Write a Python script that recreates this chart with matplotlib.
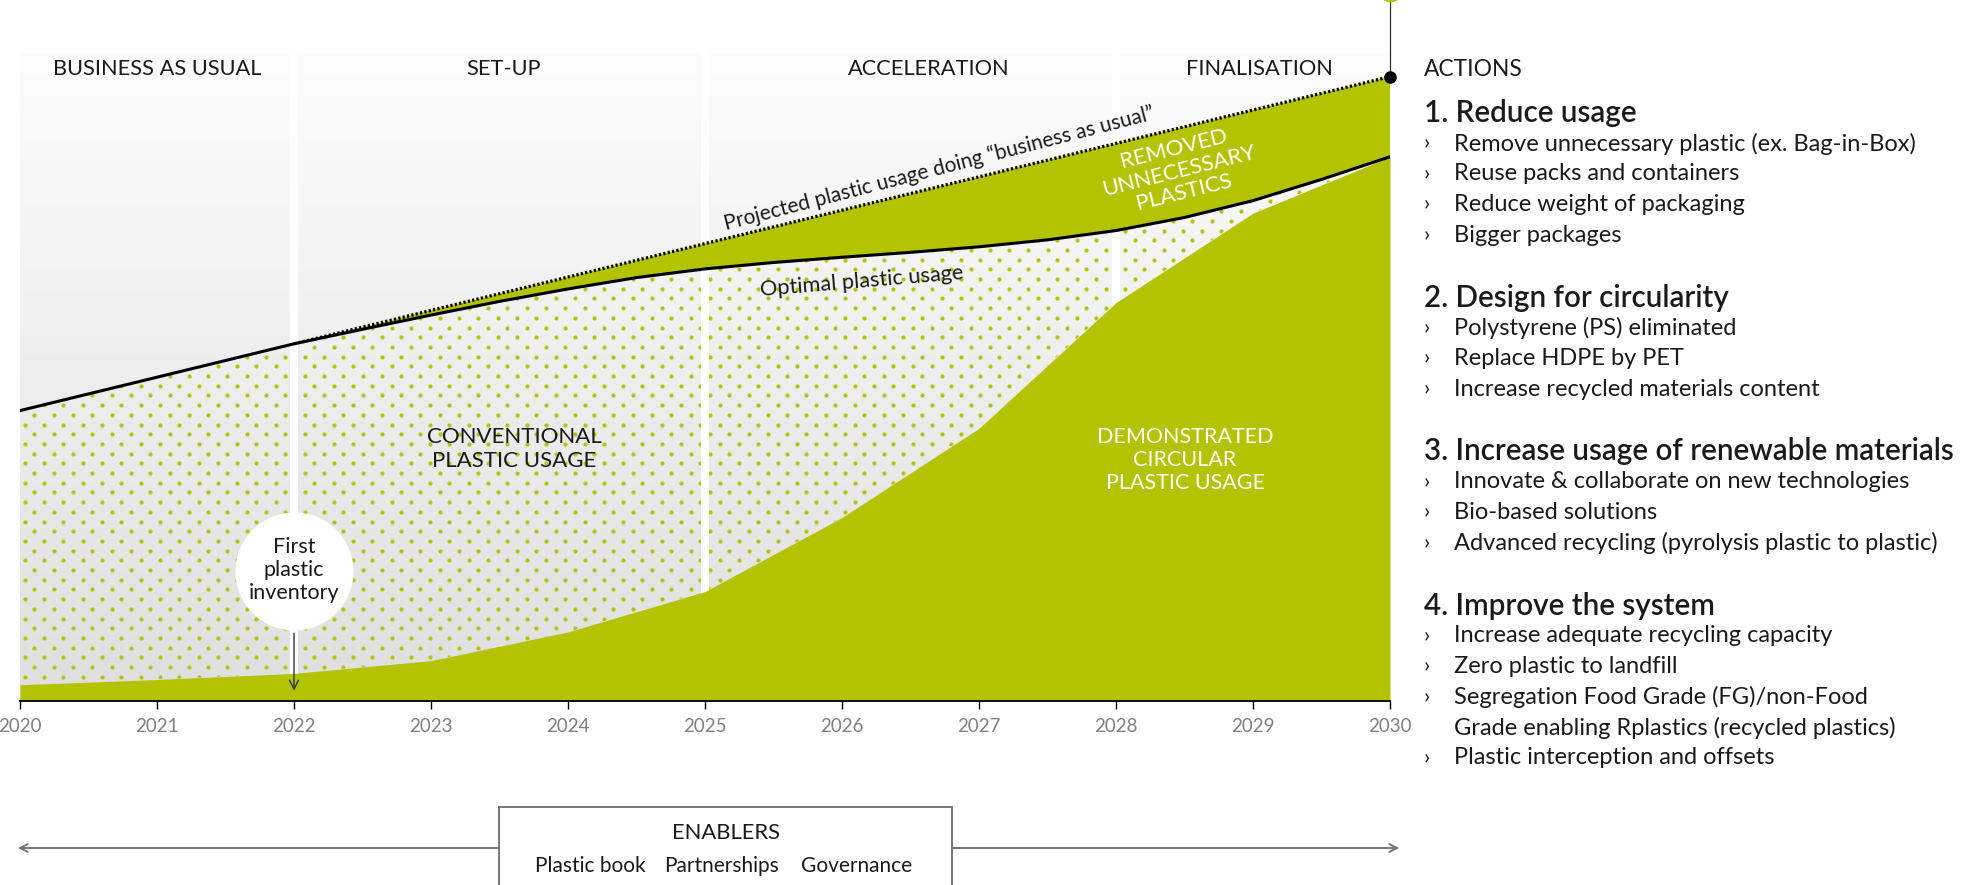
import numpy as np
import matplotlib.pyplot as plt
from matplotlib.colors import LinearSegmentedColormap
from matplotlib.patches import Polygon, Rectangle, FancyArrowPatch

plt.rcParams['font.family'] = ['Lato', 'DejaVu Sans']

W, H = 1971, 885
GREEN = '#b4c300'
INK = '#1a1a1a'

# --- data (index, 2020 = 100) ---
years = np.arange(2020, 2031)
bau = [100, 111.5, 123, 134.5, 146, 157.5, 169, 180.5, 192, 203.5, 215]
demonstrated = [5.6, 7.4, 9.5, 13.9, 23.8, 37.7, 63.2, 93.9, 137.2, 168, 187.4]
opt_years = np.arange(2020, 2030.5, 0.5)
optimal = [100, 105.75, 111.5, 117.25, 123, 128.0, 132.9, 137.6, 141.9, 145.8,
           148.8, 151.0, 152.8, 154.5, 156.4, 158.8, 162.0, 166.5, 172.3, 179.6, 187.4]

phases = ['BUSINESS AS USUAL', 'SET-UP', 'ACCELERATION', 'FINALISATION']
phase_label_x = [2021.0, 2023.53, 2026.63, 2029.05]
phase_breaks = [2022, 2025, 2028]

actions = [
    ('1. Reduce usage', ['Remove unnecessary plastic (ex. Bag-in-Box)',
                         'Reuse packs and containers',
                         'Reduce weight of packaging',
                         'Bigger packages']),
    ('2. Design for circularity', ['Polystyrene (PS) eliminated',
                                   'Replace HDPE by PET',
                                   'Increase recycled materials content']),
    ('3. Increase usage of renewable materials', ['Innovate & collaborate on new technologies',
                                                  'Bio-based solutions',
                                                  'Advanced recycling (pyrolysis plastic to plastic)']),
    ('4. Improve the system', ['Increase adequate recycling capacity',
                               'Zero plastic to landfill',
                               'Segregation Food Grade (FG)/non-Food\nGrade enabling Rplastics (recycled plastics)',
                               'Plastic interception and offsets']),
]
enablers = ['Plastic book', 'Partnerships', 'Governance']

bau = np.array(bau)
optimal = np.array(optimal)
demonstrated = np.array(demonstrated)

PX_PER_UNIT = 2.904
BASE_PX = 701
YTOP = BASE_PX / PX_PER_UNIT
PANEL_TOP = (BASE_PX - 53) / PX_PER_UNIT


def fx(px):
    return px / W


def fy(py):
    return 1 - py / H


fig = plt.figure(figsize=(W / 100, H / 100), dpi=100)
ax = fig.add_axes([20 / W, (H - BASE_PX) / H, 1370 / W, BASE_PX / H])

# grey gradient background
grad = np.linspace(0, 1, 256).reshape(-1, 1)
cmap = LinearSegmentedColormap.from_list('bg', ['#dfdfdf', '#fdfdfd'])
ax.imshow(grad, extent=[2020, 2030, 0, PANEL_TOP], origin='lower', cmap=cmap,
          aspect='auto', zorder=0)

# dotted "conventional plastic" region
verts = list(zip(opt_years, optimal)) + list(zip(years[::-1], demonstrated[::-1]))
clip = Polygon(verts, closed=True, transform=ax.transData, fc='none', ec='none')
ax.add_patch(clip)
dx, dy = 19.3 / 137, 9.7 / PX_PER_UNIT
gx, gy = [], []
for k, yy in enumerate(np.arange(dy / 2, PANEL_TOP, dy)):
    xs = np.arange(2020 + dx / 4 + (dx / 2) * (k % 2), 2030, dx)
    gx.extend(xs)
    gy.extend([yy] * len(xs))
dots = ax.scatter(gx, gy, s=9, c=GREEN, linewidths=0, zorder=1)
dots.set_clip_path(clip)

# phase separators
ax.vlines(phase_breaks, 0, PANEL_TOP, colors='white', lw=5.8, zorder=2)

# green areas
ax.fill_between(years, 0, demonstrated, color=GREEN, lw=0, zorder=3)
m = years >= 2022
n = opt_years >= 2022
removed = list(zip(years[m], bau[m])) + list(zip(opt_years[n][::-1], optimal[n][::-1]))
ax.add_patch(Polygon(removed, closed=True, fc=GREEN, ec='none', zorder=3))

# lines
ax.plot(opt_years, optimal, color='k', lw=2.2, zorder=4, solid_joinstyle='round')
ax.plot(years[m], bau[m], color='k', lw=2.3, ls=(0, (0.7, 0.7)), zorder=4)
ax.plot([2030, 2030], [bau[-1], YTOP + 5], color='#333333', lw=0.9, clip_on=False, zorder=5)
ax.plot(2030, bau[-1], 'o', ms=8, color='k', clip_on=False, zorder=6)
ax.plot(2030, YTOP + 3.3, 'o', ms=17, color=GREEN, mec='none', clip_on=False, zorder=6)

# first plastic inventory marker
cy = 44.6
ax.plot(2022, cy, 'o', ms=85, mfc='white', mec='none', zorder=5)
ax.text(2022, cy + 0.5, 'First\nplastic\ninventory', ha='center', va='center',
        fontsize=15.5, color=INK, linespacing=1.2, zorder=6)
ax.annotate('', xy=(2022, 2.6), xytext=(2022, cy - 20.3),
            arrowprops=dict(arrowstyle='->', color='#333333', lw=1.0, mutation_scale=16),
            zorder=6)

# labels inside chart
ax.text(2026.71, 183.5, 'Projected plastic usage doing \u201cbusiness as usual\u201d',
        rotation=14.5, rotation_mode='anchor', ha='center', va='center',
        fontsize=15, color=INK, zorder=6)
ax.text(2026.146, 144.6, 'Optimal plastic usage', rotation=4.8, rotation_mode='anchor',
        ha='center', va='center', fontsize=15.7, color=INK, zorder=6)
ax.text(2028.46, 182.5, 'REMOVED\nUNNECESSARY\nPLASTICS', rotation=14,
        rotation_mode='anchor', ha='center', va='center', multialignment='center',
        fontsize=16, color='white', linespacing=1.15, zorder=6)
ax.text(2023.606, 86.8, 'CONVENTIONAL\nPLASTIC USAGE', ha='center', va='center',
        fontsize=16, color=INK, linespacing=1.25, zorder=6)
ax.text(2028.504, 83.0, 'DEMONSTRATED\nCIRCULAR\nPLASTIC USAGE', ha='center', va='center',
        fontsize=15.5, color='white', linespacing=1.2, zorder=6)

for name, xp in zip(phases, phase_label_x):
    ax.text(xp, (BASE_PX - 69) / PX_PER_UNIT, name, ha='center', va='center',
            fontsize=15.7, color=INK, zorder=6)

# axis
ax.set_xlim(2020, 2030)
ax.set_ylim(0, YTOP)
ax.set_xticks(years)
ax.set_xticklabels([str(y) for y in years])
ax.tick_params(axis='x', direction='out', length=6, width=1, color='k',
               labelsize=13.5, labelcolor='#808080', pad=6)
ax.set_yticks([])
for s in ['top', 'left', 'right']:
    ax.spines[s].set_visible(False)
ax.spines['bottom'].set_linewidth(1.3)
ax.spines['bottom'].set_zorder(6)
ax.patch.set_alpha(0)

# actions column
fig.text(fx(1424), fy(69), 'ACTIONS', ha='left', va='center', fontsize=16.4, color=INK)
y = 113
for head, items in actions:
    fig.text(fx(1424), fy(y), head, ha='left', va='center', fontsize=21.3,
             fontweight='semibold', color=INK)
    y += 30.5
    for item in items:
        lines = item.split('\n')
        fig.text(fx(1424), fy(y), '\u203a', ha='left', va='center', fontsize=16, color=INK)
        for ln in lines:
            fig.text(fx(1454), fy(y), ln, ha='left', va='center', fontsize=17, color=INK)
            y += 30.5
    y += 32

# enablers
fig.add_artist(FancyArrowPatch((fx(15), fy(848)), (fx(1402), fy(848)),
                               transform=fig.transFigure, arrowstyle='<->',
                               mutation_scale=14, color='#777777', lw=1.4))
fig.add_artist(Rectangle((fx(499), fy(900)), fx(952) - fx(499), fy(807) - fy(900),
                         transform=fig.transFigure, fc='white', ec='#777777', lw=1.4))
fig.text(fx(726), fy(833), 'ENABLERS', ha='center', va='center', fontsize=15.8, color=INK)
for name, xp in zip(enablers, [590, 722, 857]):
    fig.text(fx(xp), fy(866), name, ha='center', va='center', fontsize=15, color=INK)

plt.savefig('out.png', dpi=100)
plt.close()
